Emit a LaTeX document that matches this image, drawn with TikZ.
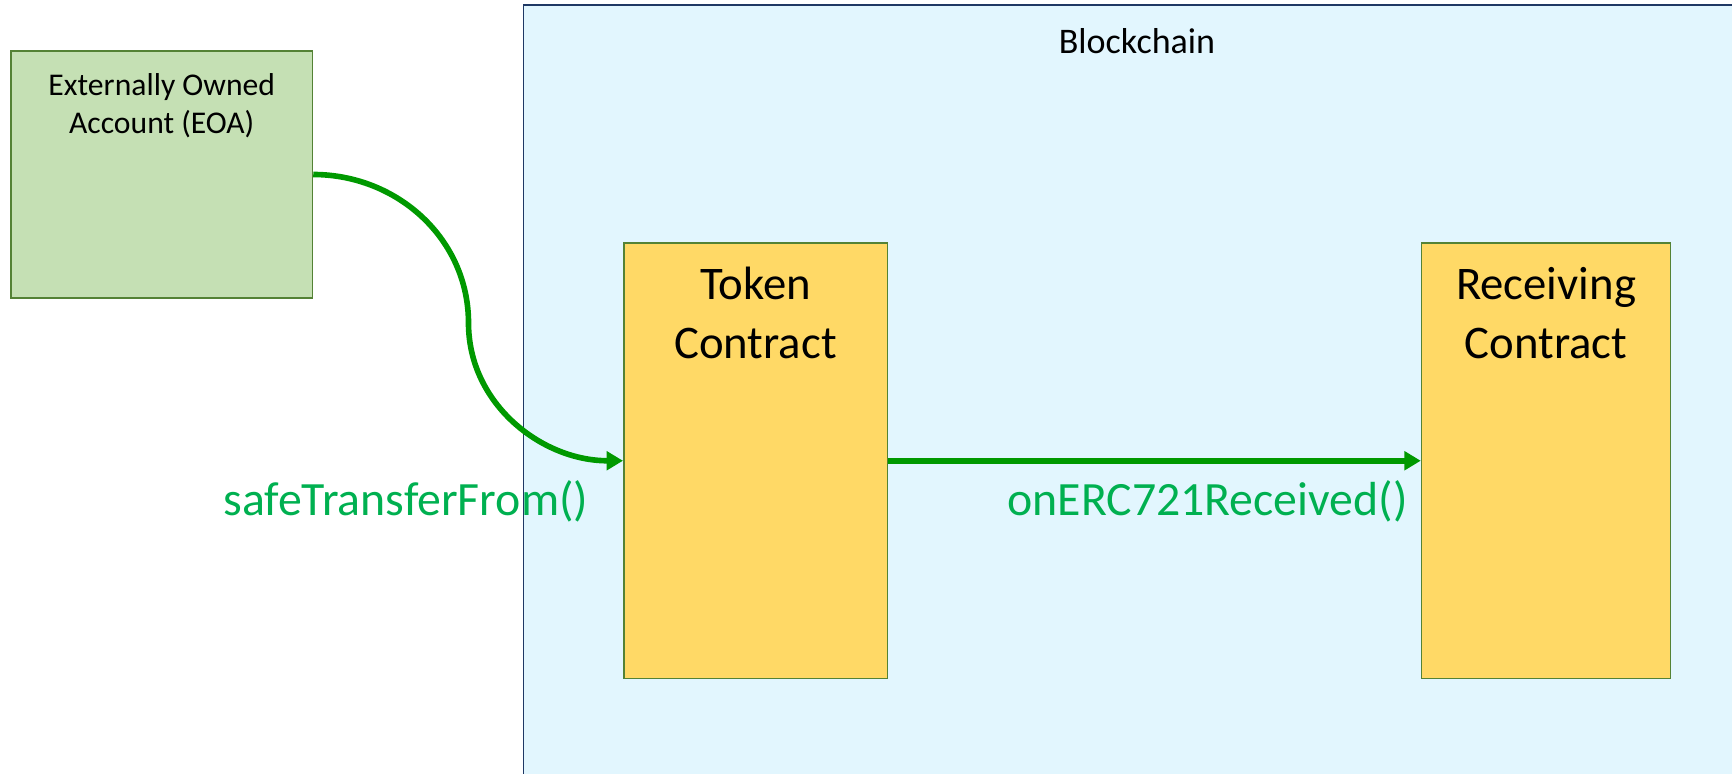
\documentclass[tikz,border=0pt]{standalone}
\usepackage{fontspec}
\setmainfont{Carlito}
\usetikzlibrary{arrows.meta}

\definecolor{eoagruen}{HTML}{C5E0B4}
\definecolor{boxrand}{HTML}{548235}
\definecolor{chainblau}{HTML}{E2F6FE}
\definecolor{chainrand}{HTML}{1F3864}
\definecolor{contractgelb}{HTML}{FFD966}
\definecolor{pfeilgruen}{HTML}{009900}
\definecolor{labelgruen}{HTML}{00B050}

\begin{document}
\begin{tikzpicture}
	%Rahmen
	\useasboundingbox (0,0) rectangle (34.64,15.46);
	\clip (0,0) rectangle (34.64,15.46);
	\def\lw{3.2pt}
	
	\tikzset{box/.style = {draw=boxrand, line width=0.85pt, inner sep=0pt}};
	\tikzset{contract/.style = {box, fill=contractgelb, minimum width=5.2cm, minimum height=8.71cm}};
	\tikzset{call/.style = {draw=pfeilgruen, line width=\lw, -{Triangle[length=0.33cm, width=0.37cm]}}};
	\tikzset{calltext/.style = {text=labelgruen, font=\fontsize{27.2}{32}\selectfont, inner sep=0pt, anchor=base east}};
	\tikzset{bigtext/.style = {align=center, inner sep=0pt, font=\fontsize{26.6}{33.2}\selectfont}};
	
	%Blockchain
	\draw[draw=chainrand, line width=1.1pt, fill=chainblau] (10.47,15.36) rectangle (36,-1);
	\node[anchor=base, inner sep=0pt, font=\fontsize{20.5}{24}\selectfont] (chainText) at (22.74,14.39) {Blockchain};
	
	%EOA
	\node[box, fill=eoagruen, minimum width=6.03cm, minimum height=4.94cm] (eoa) at (3.235,11.97) {};
	\node[align=center, inner sep=0pt, font=\fontsize{18}{21.4}\selectfont] (eoaText) at (3.235,13.35) {Externally Owned\\Account (EOA)};
	
	%Kontrakte
	\node[contract, minimum width=5.27cm] (token) at (15.11,6.245) {};
	\node[bigtext] (tokenText) at (15.11,9.20) {Token\\Contract};
	\node[contract, minimum width=4.98cm] (recv) at (30.92,6.245) {};
	\node[bigtext] (recvText) at (30.92,9.20) {Receiving\\Contract};
	
	%Pfeile
	\coordinate (knick) at (9.37,9.0);
	\draw[call] (eoa.east) to[out=0, in=90] (knick) to[out=-90, in=180] (token.west);
	\draw[call] (token.east) -- (recv.west);
	
	%Beschriftung
	\node[calltext] (sfLabel) at (11.77,5.16) {safeTransferFrom()};
	\node[calltext] (recvLabel) at (28.16,5.16) {onERC721Received()};
\end{tikzpicture}
\end{document}
